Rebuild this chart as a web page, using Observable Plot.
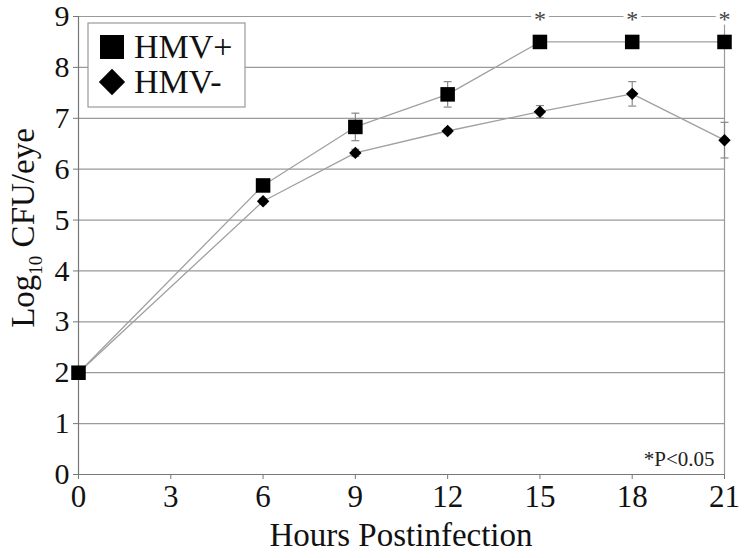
<!DOCTYPE html>
<html><head><meta charset="utf-8">
<script src="https://cdn.jsdelivr.net/npm/d3@7"></script>
<script src="https://cdn.jsdelivr.net/npm/@observablehq/plot@0.6"></script>
<style>
body{margin:0;background:#fff}
#chart{position:relative;width:744px;height:558px}
</style>
</head><body><div id="chart"></div>
<script>
const hours = [0, 6, 9, 12, 15, 18, 21];
const hmvPlus = [2.0, 5.68, 6.83, 7.47, 8.50, 8.50, 8.50];
const hmvPlusSD = [0, 0.06, 0.27, 0.25, 0, 0, 0];
const hmvMinus = [2.0, 5.37, 6.32, 6.75, 7.13, 7.48, 6.57];
const hmvMinusSD = [0, 0.05, 0.07, 0.05, 0.12, 0.24, 0.35];
const sigHours = [15, 18, 21];
const xTicks = [0, 3, 6, 9, 12, 15, 18, 21];
const yTicks = [0, 1, 2, 3, 4, 5, 6, 7, 8, 9];
const seriesNames = ["HMV+", "HMV-"];
const yLabelMain = "Log", yLabelSub = "10", yLabelRest = " CFU/eye";
const xLabel = "Hours Postinfection";
const noteText = "*P<0.05";

const rows = [];
hours.forEach((h, i) => {
  rows.push({series: "HMV+", hour: h, value: hmvPlus[i], sd: hmvPlusSD[i]});
  rows.push({series: "HMV-", hour: h, value: hmvMinus[i], sd: hmvMinusSD[i]});
});
const errRows = rows.filter(d => d.sd > 0);
const plusRows = rows.filter(d => d.series === "HMV+");
const minusRows = rows.filter(d => d.series === "HMV-");

const capSymbol = {draw(ctx, size) { const w = Math.sqrt(size); ctx.moveTo(-w / 2, 0); ctx.lineTo(w / 2, 0); }};

const font = "'Liberation Serif', 'DejaVu Serif', serif";
const gridColor = "#9a9a9a";
const lineColor = "#a0a0a0";

const plot = Plot.plot({
  width: 744,
  height: 558,
  marginLeft: 78,
  marginRight: 20,
  marginTop: 16,
  marginBottom: 84,
  style: {fontFamily: font, fontSize: "30px", color: "#111", background: "#fff", overflow: "visible"},
  x: {domain: [0, 21], ticks: xTicks, label: null},
  y: {domain: [0, 9], ticks: yTicks, label: null},
  marks: [
    Plot.gridY(yTicks.filter(v => v > 0), {stroke: gridColor, strokeOpacity: 1, strokeWidth: 1.2}),
    Plot.ruleX([0], {stroke: "#777", strokeWidth: 1.2}),
    Plot.ruleX([21], {stroke: gridColor, strokeWidth: 1.2}),
    Plot.ruleY([0], {stroke: "#777", strokeWidth: 1.2}),
    Plot.axisX({ticks: xTicks, tickSize: 5, tickPadding: 5, stroke: "#777", fontSize: 31, label: null}),
    Plot.axisY({ticks: yTicks, tickSize: 5, tickPadding: 4, stroke: "#777", fontSize: 30, label: null}),
    Plot.line(plusRows, {x: "hour", y: "value", stroke: lineColor, strokeWidth: 1.3}),
    Plot.line(minusRows, {x: "hour", y: "value", stroke: lineColor, strokeWidth: 1.3}),
    Plot.ruleX(errRows, {x: "hour", y1: d => d.value - d.sd, y2: d => d.value + d.sd, stroke: "#888", strokeWidth: 1.2}),
    Plot.dot(errRows, {x: "hour", y: d => d.value - d.sd, symbol: capSymbol, r: 4.5, fill: "none", stroke: "#888", strokeWidth: 1.2}),
    Plot.dot(errRows, {x: "hour", y: d => d.value + d.sd, symbol: capSymbol, r: 4.5, fill: "none", stroke: "#888", strokeWidth: 1.2}),
    Plot.dot(minusRows, {x: "hour", y: "value", symbol: "diamond2", r: 5.6, fill: "#000", stroke: "none"}),
    Plot.dot(plusRows, {x: "hour", y: "value", symbol: "square", r: 8.2, fill: "#000", stroke: "none"}),
    Plot.text(sigHours, {x: d => d, y: 9, text: () => "*", fontSize: 24, fill: "#444", stroke: "#fff", strokeWidth: 8, dy: 3}),
    Plot.text([noteText], {frameAnchor: "bottom-right", dx: -10, dy: -9, fontSize: 21, fill: "#222", textAnchor: "end"})
  ]
});

const svg = d3.select(plot);
// y axis title with subscript
const yt = svg.append("text")
  .attr("transform", "translate(34,228) rotate(-90)")
  .attr("text-anchor", "middle")
  .style("font-family", font).style("font-size", "33px").attr("fill", "#111");
yt.append("tspan").text(yLabelMain);
yt.append("tspan").text(yLabelSub).attr("font-size", "19px").attr("dy", "8");
yt.append("tspan").text(yLabelRest).attr("dy", "-8");
// x axis title
svg.append("text")
  .attr("x", 401).attr("y", 546)
  .attr("text-anchor", "middle")
  .style("font-family", font).style("font-size", "33px").attr("fill", "#111")
  .text(xLabel);
// legend
const lg = svg.append("g").attr("transform", "translate(88,23)");
lg.append("rect").attr("width", 157).attr("height", 84).attr("fill", "#fff").attr("stroke", gridColor).attr("stroke-width", 1.2);
lg.append("path").attr("d", d3.symbol(d3.symbolSquare, 24 * 24)()).attr("transform", "translate(24,24)").attr("fill", "#000");
lg.append("path").attr("d", d3.symbol(d3.symbolDiamond2, 21 * 21)()).attr("transform", "translate(24,59)").attr("fill", "#000");
seriesNames.forEach((name, i) => {
  lg.append("text").attr("x", 46).attr("y", 35 + i * 35)
    .attr("text-anchor", "start")
    .style("font-family", font).style("font-size", "34px").attr("fill", "#111").text(name);
});

document.getElementById("chart").appendChild(plot);
</script>
</body></html>
